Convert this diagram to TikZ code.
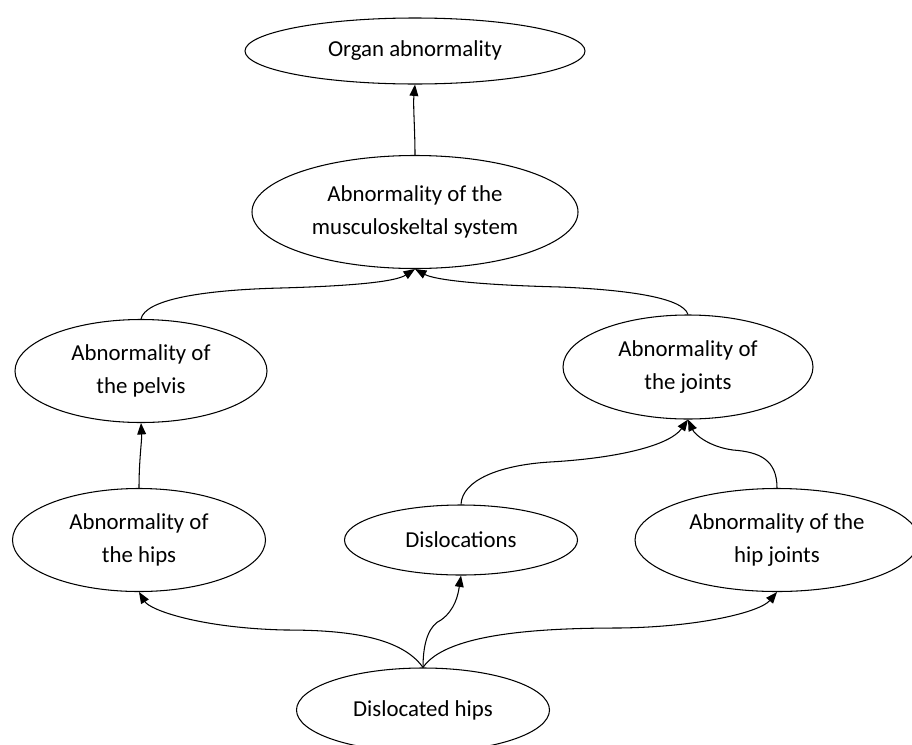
\documentclass[tikz,border=0pt]{standalone}
\usepackage{fontspec}
\setmainfont{Carlito}
\usetikzlibrary{shapes.geometric,arrows.meta}

\tikzset{
  term/.style={draw, ellipse, inner sep=0pt, align=center, line width=.6pt,
    font=\fontsize{13}{18.6}\selectfont},
  edge/.style={line width=.6pt, -{Triangle[length=6.5pt,width=5pt]}}
}

\begin{document}
\begin{tikzpicture}[x=.02cm, y=-.02cm]
    \useasboundingbox (0,0) rectangle (912,744);
    % terms
    \node[term, minimum width=340*.02cm, minimum height=66*.02cm] (organ) at (415,51) {Organ abnormality};
    \node[term, minimum width=326*.02cm, minimum height=113*.02cm] (musc) at (415,212) {Abnormality of the\\musculoskeltal system};
    \node[term, minimum width=252*.02cm, minimum height=103*.02cm] (pelvis) at (141,371) {Abnormality of\\the pelvis};
    \node[term, minimum width=250*.02cm, minimum height=104*.02cm] (joints) at (688,367) {Abnormality of\\the joints};
    \node[term, minimum width=253*.02cm, minimum height=103*.02cm] (hips) at (139,540) {Abnormality of\\the hips};
    \node[term, minimum width=233*.02cm, minimum height=70*.02cm] (disloc) at (461,540) {Dislocations};
    \node[term, minimum width=284*.02cm, minimum height=103*.02cm] (hipjoints) at (777,540) {Abnormality of the\\hip joints};
    \node[term, minimum width=253*.02cm, minimum height=84*.02cm] (dhips) at (423,710) {Dislocated hips};
    % is-a links
    \draw[edge] (musc.north) .. controls (415,130) and (413,105) .. (organ.south);
    \draw[edge] (pelvis.north) .. controls (145,300) and (200,290) .. (281,288)
                .. controls (350,286) and (395,282) .. (musc.south);
    \draw[edge] (joints.north) .. controls (683,298) and (630,290) .. (560,287)
                .. controls (480,285) and (435,280) .. (musc.south);
    \draw[edge] (hips.north) .. controls (139,460) and (142,440) .. (pelvis.south);
    \draw[edge] (disloc.north) .. controls (462,480) and (500,465) .. (550,462)
                .. controls (620,458) and (670,445) .. (joints.south);
    \draw[edge] (hipjoints.north) .. controls (777,460) and (760,452) .. (733,450)
                .. controls (710,447) and (695,435) .. (joints.south);
    \draw[edge] (dhips.north) .. controls (400,635) and (340,630) .. (285,630)
                .. controls (200,628) and (150,610) .. (hips.south);
    \draw[edge] (dhips.north) .. controls (423,640) and (430,625) .. (441,620)
                .. controls (455,610) and (458,595) .. (disloc.south);
    \draw[edge] (dhips.north) .. controls (445,635) and (530,628) .. (619,628)
                .. controls (700,627) and (760,612) .. (hipjoints.south);
\end{tikzpicture}
\end{document}
